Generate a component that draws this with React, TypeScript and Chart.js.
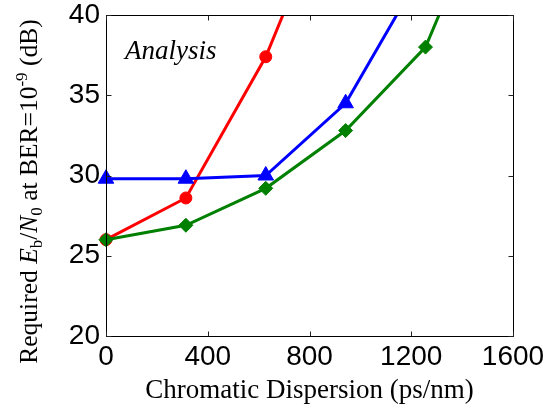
import React, { useEffect, useRef } from "react";
import { Chart, registerables } from "chart.js";
Chart.register(...registerables);

const dispersion = [0, 314, 628, 942, 1256, 1570];
const redValues = [26.0, 28.6, 37.4, 49.5];
const blueValues = [29.8, 29.8, 30.0, 34.5, 43.1];
const greenValues = [26.0, 26.9, 29.2, 32.8, 38.0, 49.8];
const xTickValues = [0, 400, 800, 1200, 1600];
const yTickValues = [20, 25, 30, 35, 40];
const xTitle = "Chromatic Dispersion (ps/nm)";
const annotation = "Analysis";
const yTitleParts = [
  { text: "Required ", style: "normal" },
  { text: "E", style: "italic" },
  { text: "b", style: "sub" },
  { text: "/", style: "normal" },
  { text: "N", style: "italic" },
  { text: "0", style: "sub" },
  { text: " at BER=10", style: "normal" },
  { text: "-9", style: "sup" },
  { text: " (dB)", style: "normal" },
];

const SERIF = "'Liberation Serif', 'Times New Roman', serif";
const SANS = "'Liberation Sans', Arial, sans-serif";

const toPoints = (vals: number[]) => vals.map((v, i) => ({ x: dispersion[i], y: v }));

const fontFor = (style: string) => {
  if (style === "italic") return `italic 25.5px ${SERIF}`;
  if (style === "sub" || style === "sup") return `17px ${SERIF}`;
  return `25.5px ${SERIF}`;
};

const framePlugin = {
  id: "frame",
  afterDraw(chart: any) {
    const { ctx, chartArea: a, scales } = chart;
    ctx.save();
    const L = Math.round(a.left) + 0.5;
    const R = Math.round(a.right) + 0.5;
    const T = Math.round(a.top) + 0.5;
    const B = Math.round(a.bottom) + 0.5;
    ctx.strokeStyle = "#000";
    ctx.lineWidth = 1;
    ctx.strokeRect(L, T, R - L, B - T);
    const tl = 5;
    ctx.strokeStyle = "#222";
    ctx.beginPath();
    xTickValues.forEach((v) => {
      const px = Math.round(scales.x.getPixelForValue(v)) + 0.5;
      ctx.moveTo(px, B);
      ctx.lineTo(px, B - tl);
      ctx.moveTo(px, T);
      ctx.lineTo(px, T + tl);
    });
    yTickValues.forEach((v) => {
      const py = Math.round(scales.y.getPixelForValue(v)) + 0.5;
      ctx.moveTo(L, py);
      ctx.lineTo(L + tl, py);
      ctx.moveTo(R, py);
      ctx.lineTo(R - tl, py);
    });
    ctx.stroke();

    ctx.fillStyle = "#000";
    ctx.textBaseline = "alphabetic";
    ctx.textAlign = "left";
    ctx.font = `italic 27px ${SERIF}`;
    ctx.fillText(annotation, a.left + 19, a.top + 44);

    let total = 0;
    const widths = yTitleParts.map((p) => {
      ctx.font = fontFor(p.style);
      const w = ctx.measureText(p.text).width;
      total += w;
      return w;
    });
    ctx.translate(a.left - 69, 191.5);
    ctx.rotate(-Math.PI / 2);
    let x = -total / 2;
    yTitleParts.forEach((p, i) => {
      ctx.font = fontFor(p.style);
      const dy = p.style === "sub" ? 5 : p.style === "sup" ? -10 : 0;
      ctx.fillText(p.text, x, dy);
      x += widths[i];
    });
    ctx.restore();
  },
};

const clipBox = { left: 14, right: 14, top: 0, bottom: 14 };

export default function App() {
  const ref = useRef<HTMLCanvasElement | null>(null);
  useEffect(() => {
    if (!ref.current) return;
    const chart = new Chart(ref.current, {
      type: "line",
      data: {
        datasets: [
          {
            label: "green",
            data: toPoints(greenValues),
            borderColor: "#008000",
            backgroundColor: "#008000",
            pointBackgroundColor: "#008000",
            pointBorderColor: "#008000",
            pointStyle: "rectRot",
            pointRadius: 7,
            pointBorderWidth: 1,
            borderWidth: 3,
            clip: clipBox,
          },
          {
            label: "blue",
            data: toPoints(blueValues),
            borderColor: "#0000ff",
            backgroundColor: "#0000ff",
            pointBackgroundColor: "#0000ff",
            pointBorderColor: "#0000ff",
            pointStyle: "triangle",
            pointRadius: 9,
            pointBorderWidth: 1,
            borderWidth: 3,
            clip: clipBox,
          },
          {
            label: "red",
            data: toPoints(redValues),
            borderColor: "#ff0000",
            backgroundColor: "#ff0000",
            pointBackgroundColor: "#ff0000",
            pointBorderColor: "#ff0000",
            pointStyle: "circle",
            pointRadius: 6,
            pointBorderWidth: 1,
            borderWidth: 3,
            clip: clipBox,
          },
        ],
      } as any,
      options: {
        responsive: false,
        animation: false,
        layout: { padding: { left: 0, right: 33, top: 15, bottom: 0 } },
        plugins: { legend: { display: false }, tooltip: { enabled: false } },
        elements: { line: { tension: 0 } },
        scales: {
          x: {
            type: "linear",
            min: 0,
            max: 1600,
            grid: { display: false, drawTicks: false },
            border: { display: false },
            afterBuildTicks: (s: any) => {
              s.ticks = xTickValues.map((v) => ({ value: v }));
            },
            ticks: {
              font: { family: SANS, size: 28 },
              color: "#000",
              padding: 4,
              maxRotation: 0,
              autoSkip: false,
              callback: (v: any) => String(v),
            },
            title: {
              display: true,
              text: xTitle,
              font: { family: SERIF, size: 27 },
              color: "#000",
              padding: { top: 0, bottom: 3 },
            },
            afterFit: (s: any) => {
              s.height = 74;
              s.paddingLeft = 0;
              s.paddingRight = 0;
            },
          },
          y: {
            type: "linear",
            min: 20,
            max: 40,
            grid: { display: false, drawTicks: false },
            border: { display: false },
            afterBuildTicks: (s: any) => {
              s.ticks = yTickValues.map((v) => ({ value: v }));
            },
            ticks: {
              font: { family: SANS, size: 28 },
              color: "#000",
              padding: 6,
              autoSkip: false,
              callback: (v: any) => String(v),
            },
            afterFit: (s: any) => {
              s.width = 106;
              s.paddingTop = 0;
              s.paddingBottom = 0;
            },
          },
        },
      } as any,
      plugins: [framePlugin],
    });
    return () => chart.destroy();
  }, []);
  return (
    <div style={{ position: "fixed", left: 0, top: 0, width: 546, height: 410, background: "#fff" }}>
      <canvas ref={ref} width={546} height={410} />
    </div>
  );
}
